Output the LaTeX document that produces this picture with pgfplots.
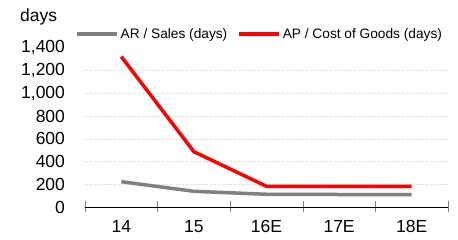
\documentclass[border=0pt]{standalone}
\usepackage{pgfplots}
\pgfplotsset{compat=1.18}
\usepackage{fontspec}
\setmainfont{Liberation Sans}
\definecolor{arGray}{RGB}{128,128,128}
\definecolor{gridGray}{RGB}{210,210,210}
\begin{document}
\begin{tikzpicture}
\useasboundingbox (0,0) rectangle (458pt,240pt);
\begin{axis}[
  at={(85pt,33pt)}, anchor=south west,
  scale only axis, width=363pt, height=159pt,
  xmin=0, xmax=5, ymin=0, ymax=1400,
  axis x line*=bottom, axis y line*=left,
  separate axis lines,
  x axis line style={black, line width=0.8pt, -},
  y axis line style={draw=none},
  xtick={0.5,1.5,2.5,3.5,4.5},
  xticklabels={14,15,16E,17E,18E},
  minor xtick={0,1,2,3,4,5},
  major x tick style={draw=none},
  minor x tick style={arGray, line width=0.6pt},
  minor tick length=11pt,
  xtick align=center,
  ytick={0,200,...,1400},
  ytick style={draw=none},
  extra y ticks={200,400,600,800,1000,1200},
  extra y tick labels={},
  extra y tick style={grid=major, major grid style={gridGray, dotted, line width=0.6pt}},
  tick label style={font=\fontsize{17.5}{20}\selectfont},
  /pgf/number format/assume math mode=true,
  /pgf/number format/1000 sep={,},
  yticklabel style={xshift=-16.5pt},
  xticklabel style={yshift=-8pt},
  legend columns=2,
  legend style={at={(axis description cs:-0.0275,1.088)}, anchor=west, draw=none, fill=none,
    font=\fontsize{13.7}{15}\selectfont, inner sep=0pt,
    /tikz/every even column/.append style={column sep=8pt}},
  legend image code/.code={\draw[#1] (0pt,0pt) -- (40pt,0pt);},
]
\addplot[arGray, line width=3.5pt] coordinates {(0.5,223)(1.5,138)(2.5,112)(3.5,110)(4.5,110)};
\addlegendentry{AR / Sales (days)}
\addplot[red, line width=3.5pt] coordinates {(0.5,1324)(1.5,487)(2.5,182)(3.5,182)(4.5,182)};
\addlegendentry{AP / Cost of Goods (days)}
\end{axis}
\node[anchor=west, inner sep=0pt, font=\fontsize{17.5}{20}\selectfont] at (20pt,223pt) {days};
\end{tikzpicture}
\end{document}
